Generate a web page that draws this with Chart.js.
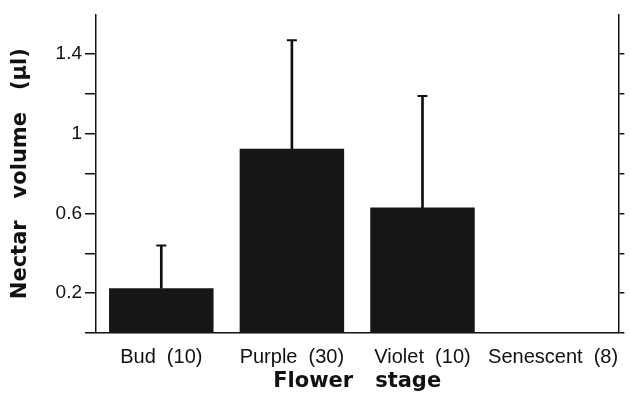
<!DOCTYPE html>
<html>
<head>
<meta charset="utf-8">
<script src="https://cdn.jsdelivr.net/npm/chart.js@4/dist/chart.umd.min.js"></script>
<style>
  html, body { margin: 0; padding: 0; background: #fff; }
  #wrap { width: 631px; height: 394px; position: relative; }
</style>
</head>
<body>
<div id="wrap"><canvas id="c" width="631" height="394"></canvas></div>
<script>
// ---- data ----
const categories = ["Bud  (10)", "Purple  (30)", "Violet  (10)", "Senescent  (8)"];
const meanVolume = [0.225, 0.925, 0.63, 0];
const errorSD    = [0.215, 0.545, 0.56, 0];
const yTickLabels = ["0.2", "0.6", "1", "1.4"];
const yTitle = "Nectar   volume   (\u00B5l)";
const xTitle = "Flower   stage";

const whiskers = meanVolume.map((m, i) => errorSD[i] > 0 ? [m, m + errorSD[i]] : null);
const caps = meanVolume.map((m, i) => errorSD[i] > 0 ? m + errorSD[i] : null);

const ink = "#111";
const tickFont = { family: "'Liberation Sans', Arial, sans-serif", size: 19 };
const labelFont = { family: "'Liberation Sans', Arial, sans-serif", size: 20 };
const titleFont = { family: "'DejaVu Sans', sans-serif", size: 21, weight: "bold" };

function dropTop(scale) {
  scale.ticks = scale.ticks.filter(t => t.value < 1.55);
}

new Chart(document.getElementById("c"), {
  type: "bar",
  data: {
    labels: categories,
    datasets: [
      {
        label: "Mean",
        data: meanVolume,
        backgroundColor: "#161616",
        borderWidth: 0,
        categoryPercentage: 1,
        barPercentage: 0.8,
        grouped: false,
        order: 2
      },
      {
        label: "SD",
        data: whiskers,
        backgroundColor: ink,
        borderWidth: 0,
        barThickness: 2,
        grouped: false,
        order: 1
      },
      {
        type: "line",
        label: "cap",
        data: caps,
        showLine: false,
        pointStyle: "line",
        pointRadius: 5,
        pointHoverRadius: 5,
        borderColor: ink,
        borderWidth: 2,
        order: 0
      }
    ]
  },
  options: {
    responsive: false,
    animation: false,
    events: [],
    layout: { padding: { top: 12, left: 0, right: 0, bottom: 0 } },
    plugins: { legend: { display: false }, tooltip: { enabled: false } },
    scales: {
      x: {
        position: "bottom",
        offset: true,
        grid: { display: true, drawOnChartArea: false, drawTicks: false },
        border: { display: true, color: ink, width: 1.5 },
        ticks: { color: ink, font: labelFont, padding: 12, maxRotation: 0, autoSkip: false },
        title: { display: true, text: xTitle, color: ink, font: titleFont, padding: { top: 0, bottom: 0 } },
        afterFit: s => { s.height = 61; }
      },
      y: {
        position: "left",
        min: 0,
        max: 1.6,
        ticks: {
          stepSize: 0.2,
          color: ink,
          font: tickFont,
          padding: 3,
          callback: function (v) {
            const s = String(Math.round(v * 10) / 10);
            return yTickLabels.includes(s) ? s : "";
          }
        },
        afterBuildTicks: dropTop,
        grid: { display: true, drawOnChartArea: false, drawTicks: true, tickLength: 11, color: ink, lineWidth: 1.5 },
        border: { display: true, color: ink, width: 1.5 },
        title: { display: true, text: yTitle, color: ink, font: titleFont, padding: { top: 8, bottom: 0 } },
        afterFit: s => { s.width = 96; }
      },
      y2: {
        position: "right",
        min: 0,
        max: 1.6,
        ticks: { stepSize: 0.2, display: false },
        afterBuildTicks: dropTop,
        grid: { display: true, drawOnChartArea: false, drawTicks: true, tickLength: 6, color: ink, lineWidth: 1.5 },
        border: { display: true, color: ink, width: 1.5 },
        afterFit: s => { s.width = 7; }
      }
    }
  }
});
</script>
</body>
</html>
